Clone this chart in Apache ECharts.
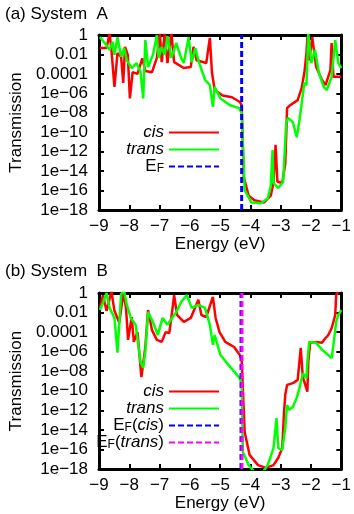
<!DOCTYPE html>
<html>
<head>
<meta charset="utf-8">
<script src="https://cdn.jsdelivr.net/npm/echarts@6/dist/echarts.min.js"></script>
<style>
html, body { margin: 0; padding: 0; background: #fff; }
#chart { width: 354px; height: 514px; }
</style>
</head>
<body>
<div id="chart"></div>
<script>
// tick labels
var xTickValues = [-9, -8, -7, -6, -5, -4, -3, -2, -1];
var xTickLabels = ['\u22129', '\u22128', '\u22127', '\u22126', '\u22125', '\u22124', '\u22123', '\u22122', '\u22121'];
var yTickExps = [0, -2, -4, -6, -8, -10, -12, -14, -16, -18];
var yTickLabels = ['1', '0.01', '0.0001', '1e\u221206', '1e\u221208', '1e\u221210', '1e\u221212', '1e\u221214', '1e\u221216', '1e\u221218'];

// Fermi levels (eV)
var efA = -4.29;
var efBcis = -4.31;
var efBtrans = -4.28;

// System A, cis
var aCisE = [-8.97, -8.75, -8.65, -8.59, -8.49, -8.39, -8.27, -8.2, -8.14, -8.05, -7.98, -7.89, -7.73, -7.57, -7.47, -7.25, -7.09, -6.99, -6.93, -6.83, -6.74, -6.61, -6.52, -6.2, -5.97, -5.88, -5.78, -5.46, -5.34, -5.27, -5.18, -4.92, -4.61, -4.35, -4.29,
  -4.22, -4.06, -3.87, -3.55, -3.33, -3.24, -3.17, -3.11, -2.95, -2.85, -2.79, -2.69, -2.44, -2.31, -2.22, -2.15, -2.12, -2.06, -1.96, -1.83, -1.64, -1.52, -1.36, -1.32, -1.26, -1.0];
var aCisT = [0.045, 0.045, 1.5, 0.03, 4.5e-6, 0.014, 0.0056, 1.2e-5, 0.06, 0.009, 3e-7, 1.5e-4, 1e-4, 0.004, 2e-4, 1.5e-4, 0.0045, 1.5, 0.0016, 1.5, 0.0013, 1.5, 0.0016, 4e-4, 5e-4, 0.06, 0.0025, 0.0013, 0.5, 1.3e-4, 2.2e-6, 6e-7, 4e-7, 1.3e-7, 6e-8,
  2.5e-15, 3e-17, 1e-17, 6e-18, 3e-17, 6e-16, 5e-12, 8e-16, 6e-16, 6e-14, 3e-8, 6e-8, 2e-7, 3.5e-6, 1.3e-4, 0.014, 0.6, 0.0025, 0.6, 5e-4, 2.5e-5, 7e-6, 2.5e-4, 0.15, 5e-5, 5e-5];

// System A, trans
var aTransE = [-8.97, -8.81, -8.65, -8.55, -8.49, -8.39, -8.27, -8.17, -8.08, -7.92, -7.76, -7.63, -7.54, -7.47, -7.38, -7.22, -7.09, -7.03, -6.93, -6.83, -6.74, -6.61, -6.45, -6.29, -6.2, -6.04, -5.94, -5.82, -5.72, -5.5, -5.34, -5.24, -5.18, -4.99, -4.67, -4.38, -4.29,
  -4.19, -3.97, -3.65, -3.43, -3.33, -3.27, -3.24, -3.08, -2.92, -2.82, -2.76, -2.6, -2.47, -2.38, -2.22, -2.15, -2.09, -1.99, -1.87, -1.74, -1.58, -1.48, -1.32, -1.2, -1.1, -1.0];
var aTransT = [0.6, 0.15, 0.03, 0.2, 0.009, 0.6, 0.0056, 0.045, 0.0025, 4e-4, 0.0013, 1.6e-4, 3e-7, 0.3, 5e-4, 0.009, 1, 0.0045, 0.06, 0.009, 0.8, 0.0045, 0.15, 0.0045, 0.0013, 0.6, 0.0016, 0.045, 0.0025, 2.5e-5, 7e-6, 4e-8, 4.5e-6, 3e-7, 6e-8, 3e-8, 1e-8,
  1.1e-16, 6e-18, 5e-18, 1.6e-17, 2.5e-16, 1.5e-12, 6e-16, 1.8e-16, 8e-16, 9e-10, 3e-9, 1.1e-9, 3e-11, 1.8e-9, 1.2e-5, 7e-6, 1.5, 0.0013, 0.03, 1.3e-4, 4.5e-6, 2.2e-6, 5e-5, 0.3, 0.0013, 4e-4];

// System B, cis
var bCisE = [-8.97, -8.87, -8.75, -8.59, -8.49, -8.33, -8.2, -8.11, -8.04, -7.92, -7.85, -7.73, -7.6, -7.47, -7.38, -7.25, -7.09, -6.93, -6.8, -6.68, -6.58, -6.52, -6.42, -6.2, -5.97, -5.72, -5.62, -5.46, -5.24, -5.15, -5.02, -4.83, -4.54, -4.35, -4.29,
  -4.19, -4.03, -3.75, -3.49, -3.24, -3.08, -2.95, -2.89, -2.85, -2.79, -2.6, -2.44, -2.34, -2.27, -2.22, -2.12, -2.09, -2.03, -1.83, -1.64, -1.52, -1.43, -1.32, -1.2, -1.17, -1.1];
var bCisT = [0.03, 0.6, 0.015, 1.5, 0.015, 9e-4, 1, 0.035, 1.6e-5, 0.0035, 1e-5, 1e-4, 2.5e-9, 3e-6, 0.018, 1.6e-4, 1.6e-5, 1e-5, 1e-4, 8e-5, 0.018, 0.6, 0.0056, 0.0011, 0.0028, 0.2, 0.0056, 0.0035, 0.4, 0.0028, 1e-4, 1e-5, 3e-6, 4.5e-7, 1.4e-7,
  6e-15, 2.8e-17, 2.5e-18, 1.3e-18, 2.5e-18, 1.4e-17, 1.4e-16, 7e-13, 4e-11, 4e-10, 6e-10, 1.3e-9, 2.5e-6, 2.5e-9, 4e-9, 8e-11, 9e-8, 8e-6, 1e-5, 8e-6, 2.5e-5, 5e-5, 2.5e-4, 0.0056, 0.6, 1.5];

// System B, trans
var bTransE = [-8.97, -8.87, -8.75, -8.65, -8.49, -8.39, -8.27, -8.17, -8.08, -7.95, -7.79, -7.63, -7.54, -7.47, -7.38, -7.22, -7.06, -6.9, -6.74, -6.52, -6.45, -6.29, -6.1, -5.94, -5.72, -5.5, -5.34, -5.24, -5.18, -4.99, -4.67, -4.38, -4.29,
  -4.25, -4.06, -3.87, -3.59, -3.43, -3.24, -3.14, -3.08, -2.95, -2.85, -2.79, -2.73, -2.6, -2.47, -2.38, -2.27, -2.15, -2.12, -2.06, -1.83, -1.64, -1.43, -1.32, -1.26, -1.17, -1.1, -1.0];
var bTransT = [0.018, 0.1, 1, 0.03, 0.0028, 8e-7, 0.8, 1.5, 0.06, 0.0028, 5.6e-4, 9e-8, 2.2e-8, 1e-6, 0.011, 0.0011, 5e-5, 0.0028, 5.6e-4, 0.0056, 0.011, 0.12, 0.6, 0.03, 0.06, 0.03, 5.6e-4, 5e-6, 5e-5, 4.5e-7, 2.8e-8, 2.5e-9, 6e-10,
  5.6e-17, 2.5e-18, 5e-19, 5e-19, 2.5e-18, 1.4e-16, 1.6e-13, 1.4e-16, 9e-17, 1.6e-14, 3.5e-12, 1.1e-12, 2.2e-12, 2e-11, 2e-10, 6e-9, 2e-9, 9e-8, 1e-5, 8e-6, 1.6e-6, 4.5e-7, 2.2e-7, 5e-6, 0.0011, 0.0056, 0.018];

var FONT = 'Liberation Sans';
var RED = '#ff0000', GREEN = '#00ff00', BLUE = '#0000ff', MAGENTA = '#ff00ff';

function pairs(es, ts) {
  return es.map(function (e, i) { return [e, Math.log10(ts[i])]; });
}
function vline(x) {
  return [[x, -18], [x, 0]];
}
function xLabel(v) {
  var i = xTickValues.indexOf(v);
  return i < 0 ? '' : xTickLabels[i];
}
function yLabel(v) {
  var i = yTickExps.indexOf(Math.round(v));
  return i < 0 ? '' : yTickLabels[i];
}

var axisLine = { onZero: false, lineStyle: { color: '#000', width: 3 } };
var axisTick = { inside: true, length: 5, lineStyle: { color: '#000', width: 2 } };

function xAxes(g) {
  return [{
    gridIndex: g, type: 'value', min: -9, max: -1, interval: 1, position: 'bottom',
    axisLine: axisLine, axisTick: axisTick, splitLine: { show: false },
    axisLabel: { formatter: xLabel, color: '#000', fontFamily: FONT, fontSize: 17, margin: 8 },
    name: 'Energy (eV)', nameLocation: 'middle', nameGap: 26,
    nameTextStyle: { color: '#000', fontFamily: FONT, fontSize: 17 }
  }, {
    gridIndex: g, type: 'value', min: -9, max: -1, interval: 1, position: 'top',
    axisLine: axisLine, axisTick: axisTick, splitLine: { show: false },
    axisLabel: { show: false }
  }];
}
function yAxes(g) {
  return [{
    gridIndex: g, type: 'value', min: -18, max: 0, interval: 2, position: 'left',
    axisLine: axisLine, axisTick: axisTick, splitLine: { show: false },
    axisLabel: { formatter: yLabel, color: '#000', fontFamily: FONT, fontSize: 17, margin: 11 },
    name: 'Transmission', nameLocation: 'middle', nameGap: 74, nameRotate: 90,
    nameTextStyle: { color: '#000', fontFamily: FONT, fontSize: 17 }
  }, {
    gridIndex: g, type: 'value', min: -18, max: 0, interval: 2, position: 'right',
    axisLine: axisLine, axisTick: axisTick, splitLine: { show: false },
    axisLabel: { show: false }
  }];
}

function curve(name, color, data, axis) {
  return {
    name: name, type: 'line', xAxisIndex: axis, yAxisIndex: axis,
    data: data, symbol: 'none', clip: true,
    lineStyle: { color: color, width: 2.5 }, itemStyle: { color: color }
  };
}
function fermi(name, color, x, axis) {
  return {
    name: name, type: 'line', xAxisIndex: axis, yAxisIndex: axis,
    data: vline(x), symbol: 'none', z: 5,
    lineStyle: { color: color, width: 3, type: [6, 3] }, itemStyle: { color: color }
  };
}

var legendNames = {
  'cis': '{it|cis}',
  'trans': '{it|trans}',
  'EF': 'E{sub|F}',
  'EF(cis)': 'E{sub|F}({it|cis})',
  'EF(trans)': 'E{sub|F}({it|trans})'
};
var legendText = {
  color: '#000', fontFamily: FONT, fontSize: 17, lineHeight: 16,
  rich: {
    it: { fontStyle: 'italic', fontFamily: FONT, fontSize: 17, color: '#000' },
    sub: { fontFamily: FONT, fontSize: 12, color: '#000', verticalAlign: 'bottom', padding: [4, 0, 0, 0] }
  }
};
function legend(names, top) {
  return {
    data: names, orient: 'vertical', align: 'right', right: 134, top: top,
    itemWidth: 50, itemHeight: 10, itemGap: 0, padding: 0, selectedMode: false,
    itemStyle: { opacity: 0 },
    textStyle: legendText,
    formatter: function (n) { return legendNames[n]; }
  };
}

var chart = echarts.init(document.getElementById('chart'), null, { renderer: 'canvas' });
chart.setOption({
  animation: false,
  backgroundColor: '#fff',
  grid: [
    { left: 92, top: 35, width: 251, height: 175 },
    { left: 92, top: 293, width: 251, height: 176 }
  ],
  xAxis: xAxes(0).concat(xAxes(1)),
  yAxis: yAxes(0).concat(yAxes(1)),
  legend: [
    legend(['cis', 'trans', 'EF'], 124),
    legend(['cis', 'trans', 'EF(cis)', 'EF(trans)'], 383)
  ],
  graphic: [
    { type: 'text', left: 5, top: 6, style: { text: '(a) System  A', fill: '#000', font: '17px "Liberation Sans"' } },
    { type: 'text', left: 5, top: 263, style: { text: '(b) System  B', fill: '#000', font: '17px "Liberation Sans"' } }
  ],
  series: [
    curve('cis', RED, pairs(aCisE, aCisT), 0),
    curve('trans', GREEN, pairs(aTransE, aTransT), 0),
    fermi('EF', BLUE, efA, 0),
    curve('cis', RED, pairs(bCisE, bCisT), 2),
    curve('trans', GREEN, pairs(bTransE, bTransT), 2),
    fermi('EF(cis)', BLUE, efBcis, 2),
    fermi('EF(trans)', MAGENTA, efBtrans, 2)
  ]
});
</script>
</body>
</html>
